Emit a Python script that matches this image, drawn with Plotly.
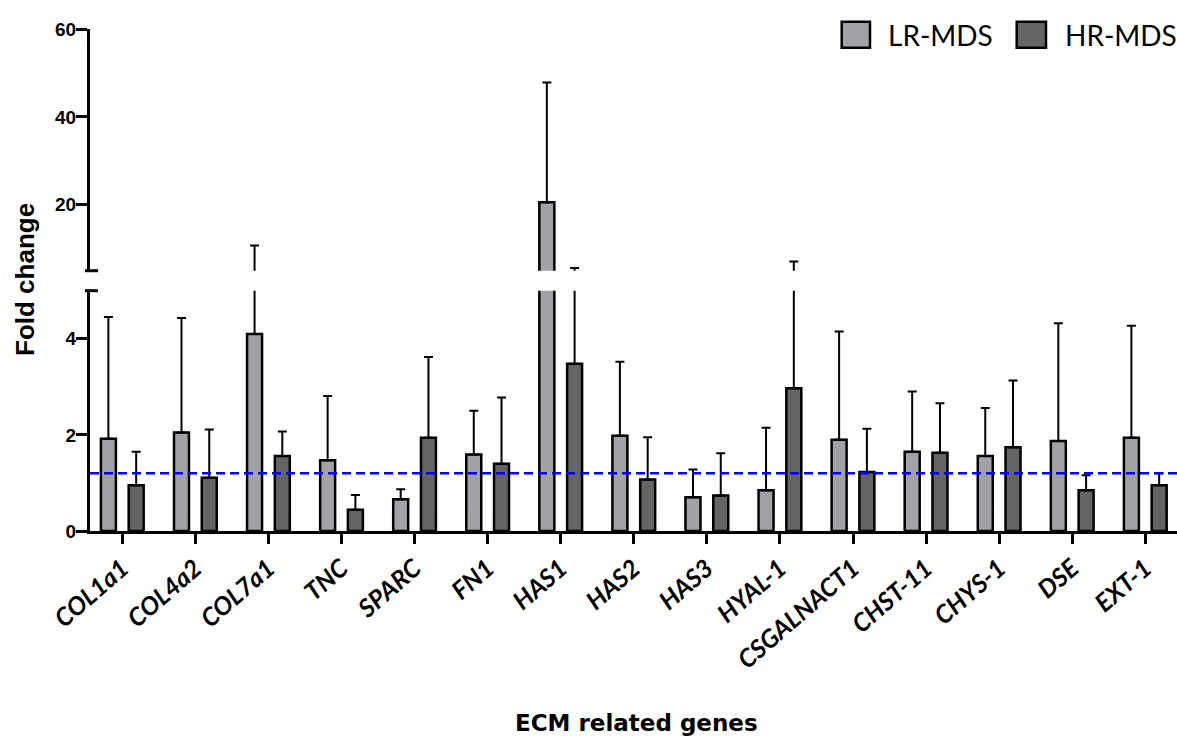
import plotly.graph_objects as go

genes = ["COL1a1", "COL4a2", "COL7a1", "TNC", "SPARC", "FN1", "HAS1", "HAS2",
         "HAS3", "HYAL-1", "CSGALNACT1", "CHST-11", "CHYS-1", "DSE", "EXT-1"]
lr_mean = [1.92, 2.05, 4.10, 1.47, 0.66, 1.59, 20.6, 1.98, 0.70, 0.85, 1.90, 1.65, 1.56, 1.87, 1.94]
lr_err = [2.53, 2.38, 6.65, 1.34, 0.21, 0.91, 27.2, 1.54, 0.58, 1.30, 2.25, 1.25, 1.00, 2.45, 2.33]
hr_mean = [0.95, 1.11, 1.56, 0.44, 1.94, 1.40, 3.48, 1.07, 0.74, 2.97, 1.23, 1.63, 1.74, 0.85, 0.95]
hr_err = [0.70, 1.00, 0.51, 0.31, 1.68, 1.38, 2.12, 0.88, 0.88, 4.13, 0.90, 1.03, 1.39, 0.31, 0.25]
threshold = 1.2
lower_ticks = [0, 2, 4]
upper_ticks = [20, 40, 60]
series_names = ["LR-MDS", "HR-MDS"]
LR_COLOR = "#A2A1A6"
HR_COLOR = "#646464"

fig = go.Figure()

for yax, xax in [("y", "x"), ("y2", "x2")]:
    for name, mean, err, col in [(series_names[0], lr_mean, lr_err, LR_COLOR),
                                 (series_names[1], hr_mean, hr_err, HR_COLOR)]:
        fig.add_trace(go.Bar(
            x=genes, y=mean, name=name, xaxis=xax, yaxis=yax,
            marker=dict(color=col, line=dict(color="black", width=2.5)),
            error_y=dict(type="data", symmetric=False, array=err,
                         arrayminus=[0] * len(err), color="black",
                         thickness=2, width=4.5),
            showlegend=False,
        ))

W, H = 1177, 742
ml, mr, mt, mb = 90, 0, 29, 211
pw = W - ml - mr
ph = H - mt - mb

axis_common = dict(showline=True, linewidth=3, linecolor="black", ticks="outside",
                   ticklen=11, tickwidth=3, tickcolor="black", showgrid=False,
                   zeroline=False, ticklabelstandoff=-4,
                   tickfont=dict(family="Liberation Sans", size=19, color="black", weight="bold"))

fig.update_layout(
    width=W, height=H,
    margin=dict(l=ml, r=mr, t=mt, b=mb),
    plot_bgcolor="white", paper_bgcolor="white",
    barmode="group", bargap=0.24, bargroupgap=0.46,
    xaxis=dict(type="category", categoryorder="array", categoryarray=genes,
               range=[-0.442, 14.434], showline=True, linewidth=3, linecolor="black",
               ticks="outside", ticklen=10, tickwidth=3, tickcolor="black",
               showgrid=False, zeroline=False, tickangle=-41,
               tickfont=dict(family="Lato", size=25, color="black", weight="bold", style="italic"),
               anchor="y", domain=[0, 1]),
    xaxis2=dict(matches="x", anchor="y2", visible=False, domain=[0, 1]),
    yaxis=dict(range=[0, 5], tickvals=lower_ticks, domain=[0, 0.4787], anchor="x", **axis_common),
    yaxis2=dict(range=[5, 60], tickvals=upper_ticks, domain=[0.5185, 1], anchor="x2", **axis_common),
    showlegend=False,
)

# threshold line
fig.add_shape(type="line", xref="x domain", yref="y", x0=0, x1=1, y0=threshold, y1=threshold,
              line=dict(color="#0000FF", width=2.5, dash="9px,5px"))

# axis break marks
bx0, bx1 = -5 / pw, 8 / pw
fig.add_shape(type="line", xref="paper", yref="y domain", x0=bx0, x1=bx1, y0=1, y1=1,
              line=dict(color="black", width=3))
fig.add_shape(type="line", xref="paper", yref="y2 domain", x0=bx0, x1=bx1, y0=0, y1=0,
              line=dict(color="black", width=3))

def px_x(p):
    return (p - ml) / pw

def px_y(p):
    return (H - mb - p) / ph

# legend drawn manually
for (x0p, x1p, txp), name, col in [((841.7, 870, 886), series_names[0], LR_COLOR),
                                    ((1016.7, 1046, 1063), series_names[1], HR_COLOR)]:
    fig.add_shape(type="rect", xref="paper", yref="paper",
                  x0=px_x(x0p), x1=px_x(x1p), y0=px_y(47.7), y1=px_y(21.7),
                  fillcolor=col, line=dict(color="black", width=2.5))
    fig.add_annotation(text=name, xref="paper", yref="paper", x=px_x(txp), y=px_y(35),
                       xanchor="left", yanchor="middle", showarrow=False,
                       font=dict(family="Lato", size=28, color="black"))

fig.add_annotation(text="<b>Fold change</b>", xref="paper", yref="paper",
                   x=px_x(25), y=px_y(280), textangle=-90, showarrow=False,
                   xanchor="center", yanchor="middle",
                   font=dict(family="Liberation Sans", size=26, color="black"))
fig.add_annotation(text="<b>ECM related genes</b>", xref="paper", yref="paper",
                   x=px_x(636), y=px_y(723), showarrow=False,
                   xanchor="center", yanchor="middle",
                   font=dict(family="DejaVu Sans", size=23, color="black"))

fig.write_html("out.html", config={"displayModeBar": False},
               post_script="document.body.style.margin='0px';document.body.style.overflow='hidden';")
